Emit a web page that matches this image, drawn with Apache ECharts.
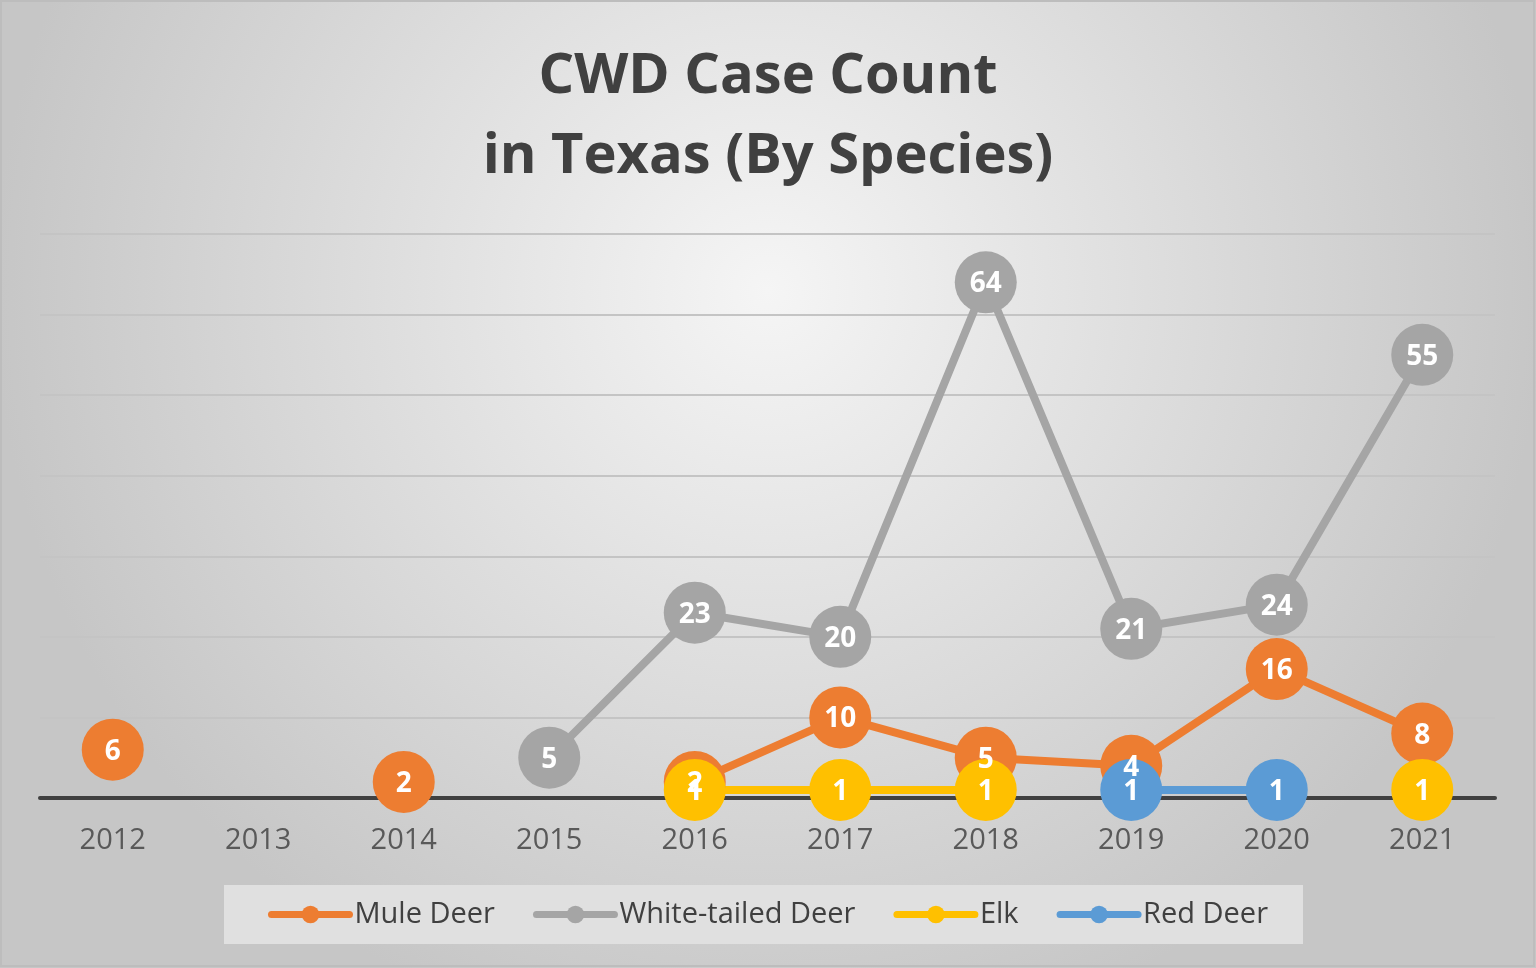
<!DOCTYPE html>
<html><head><meta charset="utf-8">
<script src="https://cdn.jsdelivr.net/npm/echarts@6/dist/echarts.min.js"></script>
<style>html,body{margin:0;padding:0;}#c{width:1536px;height:968px;}</style>
</head><body><div id="c"></div>
<script>
const years = ['2012','2013','2014','2015','2016','2017','2018','2019','2020','2021'];
const muleDeer = [6, null, 2, null, 2, 10, 5, 4, 16, 8];
const whiteTailed = [null, null, null, 5, 23, 20, 64, 21, 24, 55];
const elk = [null, null, null, null, 1, 1, 1, null, null, 1];
const redDeer = [null, null, null, null, null, null, null, 1, 1, null];
const seriesNames = ['Mule Deer','White-tailed Deer','Elk','Red Deer'];
const colors = ['#ED7D31','#A5A5A5','#FFC000','#5B9BD5'];
const FONT = '"Open Sans", sans-serif';

const chart = echarts.init(document.getElementById('c'));
function mk(name, data, color){
  return {
    name, type:'line', data, connectNulls:false,
    symbol:'circle', symbolSize:62,
    lineStyle:{color, width:8, cap:'round'},
    itemStyle:{color},
    label:{show:true, position:'inside', color:'#fff', fontSize:28, fontWeight:'bold', fontFamily:FONT, offset:[0,2]},
    emphasis:{disabled:true}
  };
}
chart.setOption({
  animation:false,
  backgroundColor:{type:'radial', x:0.5, y:0.3, r:0.8,
    colorStops:[{offset:0,color:'#f5f5f5'},{offset:1,color:'#c6c6c6'}]},
  color: colors,
  title:{text:'CWD Case Count\nin Texas (By Species)', left:'center', top:32,
    textStyle:{fontFamily:FONT, fontSize:56, fontWeight:'bold', color:'#404040', lineHeight:80}},
  grid:{left:40, right:41, top:234, bottom:170, containLabel:false},
  xAxis:{type:'category', data:years, boundaryGap:true,
    axisLine:{lineStyle:{color:'#404040', width:4}},
    axisTick:{show:false},
    axisLabel:{fontFamily:FONT, fontSize:29, color:'#595959', margin:28}},
  yAxis:{type:'value', min:0, max:70, interval:10,
    axisLabel:{show:false}, axisLine:{show:false}, axisTick:{show:false},
    splitLine:{lineStyle:{color:'#c4c4c4', width:2}}},
  legend:{data:seriesNames, bottom:24, left:'center',
    backgroundColor:'#e0e0e0', padding:[15,35,15,44],
    itemWidth:78, itemHeight:22, itemGap:38,
    lineStyle:{width:7, cap:'round'},
    textStyle:{fontFamily:FONT, fontSize:29, color:'#404040', padding:[0,0,0,0]}},
  series:[mk(seriesNames[0], muleDeer, colors[0]), mk(seriesNames[1], whiteTailed, colors[1]),
          mk(seriesNames[2], elk, colors[2]), mk(seriesNames[3], redDeer, colors[3])],
  graphic:[{type:'rect', shape:{x:1,y:1,width:1533,height:965}, style:{fill:'none', stroke:'#bdbdbd', lineWidth:2}, silent:true}]
});
</script></body></html>
